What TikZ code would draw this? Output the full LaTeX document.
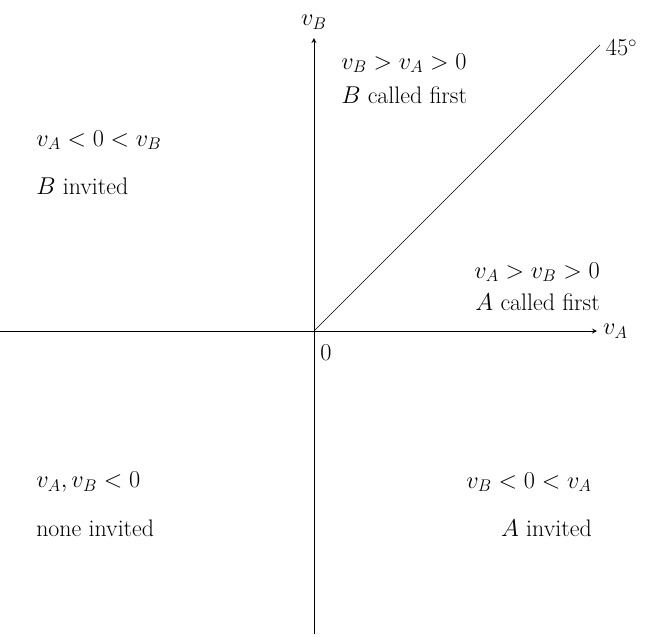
\documentclass[tikz,border=0pt]{standalone}
\usepackage{amsmath}
\usepackage{amssymb}
\usepackage{tikz}

\tikzset{
	lbl/.style={font=\fontsize{17}{20}\selectfont,inner sep=0},
}

\begin{document}
\begin{tikzpicture}[>=stealth]
	\useasboundingbox (-7.85,-7.65) rectangle (8.45,8.275);
	\coordinate (O) at (0,0);
	\coordinate (xl) at (-7.85,0);
	\coordinate (xr) at (7.075,0);
	\coordinate (yb) at (0,-7.575);
	\coordinate (yt) at (0,7.325);
	\coordinate (diag) at (7.15,7.15);
	\draw[->,semithick] (xl) -- (xr) node[lbl,right,xshift=4pt] (vA) {$v_A$};
	\draw[->,semithick] (yb) -- (yt) node[lbl,above,yshift=6pt] (vB) {$v_B$};
	\draw (O) -- (diag) node[lbl,right,xshift=4pt,yshift=-2pt] (deg) {$45^{\circ}$};
	\node[lbl] (zero) at (0.3,-0.55) {$0$};
	% first quadrant
	\node[lbl,anchor=west] (q1a) at (0.675,6.7) {$v_B>v_A>0$};
	\node[lbl,anchor=west] (q1b) at (0.675,5.9) {$B$ called first};
	\node[lbl,anchor=east] (q1c) at (7.15,1.475) {$v_A>v_B>0$};
	\node[lbl,anchor=east] (q1d) at (7.15,0.725) {$A$ called first};
	% second quadrant
	\node[lbl,anchor=west] (q2a) at (-6.95,4.775) {$v_A<0<v_B$};
	\node[lbl,anchor=west] (q2b) at (-6.95,3.625) {$B$ invited};
	% third quadrant
	\node[lbl,anchor=west] (q3a) at (-6.95,-3.775) {$v_A,v_B<0$};
	\node[lbl,anchor=west] (q3b) at (-6.95,-4.925) {none invited};
	% fourth quadrant
	\node[lbl,anchor=east] (q4a) at (6.95,-3.775) {$v_B<0<v_A$};
	\node[lbl,anchor=east] (q4b) at (6.95,-4.925) {$A$ invited};
\end{tikzpicture}
\end{document}
